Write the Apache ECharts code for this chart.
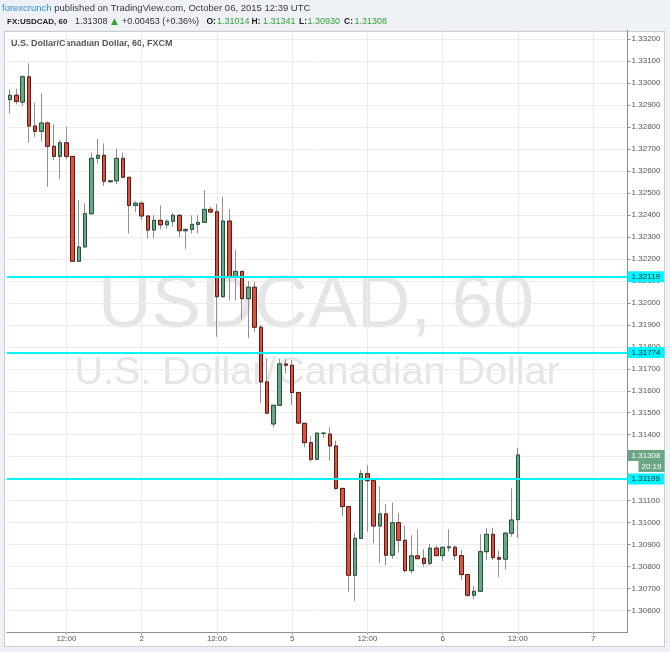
<!DOCTYPE html>
<html><head><meta charset="utf-8">
<script src="https://cdn.jsdelivr.net/npm/echarts@6/dist/echarts.min.js"></script>
<style>
html,body{margin:0;padding:0;background:#eef1f5;width:670px;height:652px;overflow:hidden;}
#frame{position:absolute;left:4px;top:31px;width:659px;height:614px;background:#fff;border:1px solid #c9cdd2;}
#chart{position:absolute;left:0;top:0;width:670px;height:652px;}
</style></head><body>
<div id="frame"></div>
<div id="chart"></div>
<script>
// hourly USDCAD candles, Oct 1 03:00 .. Oct 6 12:00 (weekend removed)
const opens = [1.32924,1.32944,1.32913,1.33028,1.32804,1.32780,1.32818,1.32712,1.32666,1.32728,
1.32666,1.32189,1.32254,1.32405,1.32657,1.32671,1.32551,1.32555,1.32657,1.32571,
1.32443,1.32453,1.32395,1.32331,1.32375,1.32355,1.32371,1.32398,1.32328,1.32334,
1.32357,1.32366,1.32425,1.32414,1.32028,1.32372,1.32116,1.32143,1.32019,1.32071,
1.31889,1.31640,1.31449,1.31534,1.31722,1.31716,1.31592,1.31452,1.31364,1.31288,
1.31406,1.31403,1.31349,1.31156,1.31073,1.30761,1.30929,1.31223,1.31191,1.30985,
1.31040,1.30852,1.31000,1.30920,1.30782,1.30849,1.30838,1.30815,1.30884,1.30850,
1.30886,1.30888,1.30850,1.30764,1.30670,1.30688,1.30868,1.30947,1.30841,1.30834,
1.30952,1.31014];
const closes = [1.32944,1.32916,1.33028,1.32804,1.32780,1.32818,1.32712,1.32666,1.32728,1.32666,
1.32189,1.32254,1.32405,1.32657,1.32671,1.32553,1.32555,1.32657,1.32571,1.32443,
1.32453,1.32395,1.32331,1.32375,1.32355,1.32371,1.32398,1.32328,1.32334,1.32357,
1.32366,1.32425,1.32413,1.32028,1.32372,1.32116,1.32143,1.32019,1.32071,1.31889,
1.31640,1.31498,1.31534,1.31722,1.31716,1.31592,1.31453,1.31364,1.31288,1.31407,
1.31407,1.31349,1.31156,1.31073,1.30761,1.30929,1.31223,1.31191,1.30985,1.31040,
1.30852,1.31000,1.30920,1.30782,1.30849,1.30836,1.30815,1.30884,1.30850,1.30888,
1.30890,1.30850,1.30764,1.30670,1.30688,1.30868,1.30947,1.30841,1.30834,1.30952,
1.31012,1.31308];
const lows = [1.32862,1.32903,1.32895,1.32728,1.32755,1.32734,1.32528,1.32649,1.32562,1.32653,
1.32189,1.32189,1.32252,1.32404,1.32634,1.32531,1.32545,1.32540,1.32568,1.32316,
1.32414,1.32377,1.32293,1.32293,1.32334,1.32337,1.32346,1.32298,1.32246,1.32316,
1.32316,1.32363,1.32408,1.31846,1.32022,1.32010,1.32010,1.31925,1.31839,1.31867,
1.31546,1.31494,1.31434,1.31533,1.31679,1.31535,1.31451,1.31343,1.31277,1.31285,
1.31384,1.31282,1.31149,1.31031,1.30686,1.30645,1.30928,1.30959,1.30906,1.30818,
1.30806,1.30836,1.30864,1.30773,1.30770,1.30835,1.30800,1.30806,1.30849,1.30826,
1.30868,1.30830,1.30739,1.30664,1.30652,1.30687,1.30830,1.30830,1.30754,1.30788,
1.30936,1.30930];
const highs = [1.32971,1.32974,1.33035,1.33089,1.32910,1.32953,1.32825,1.32813,1.32740,1.32801,
1.32668,1.32468,1.32453,1.32683,1.32746,1.32725,1.32558,1.32701,1.32683,1.32572,
1.32462,1.32462,1.32395,1.32399,1.32443,1.32380,1.32410,1.32404,1.32336,1.32398,
1.32398,1.32513,1.32436,1.32449,1.32483,1.32425,1.32240,1.32145,1.32100,1.32096,
1.31898,1.31748,1.31535,1.31746,1.31743,1.31740,1.31594,1.31453,1.31394,1.31412,
1.31412,1.31434,1.31373,1.31158,1.31074,1.30953,1.31240,1.31262,1.31192,1.31164,
1.31085,1.31091,1.31043,1.30988,1.30943,1.30967,1.30879,1.30903,1.30897,1.30891,
1.30970,1.30897,1.30876,1.30765,1.30712,1.30947,1.30975,1.30977,1.30873,1.30959,
1.31156,1.31341];

const slotCount = 99;              // hourly slots on the time axis
const timeTickIndex = [9,21,33,45,57,69,81,93];
const timeTickLabels = ['12:00','2','12:00','5','12:00','6','12:00','7'];
const levels = [1.32119, 1.31774, 1.31199];
const lastPrice = 1.31308;
const countdown = '20:19';

const FONT = 'Liberation Sans, Arial, sans-serif';
const categories = Array.from({length: slotCount}, (_, i) => String(i));
const labelOf = {};
timeTickIndex.forEach((idx, k) => { labelOf[idx] = timeTickLabels[k]; });
const isTick = (i) => labelOf[i] !== undefined;

const wickData = opens.map((o, i) => [o, closes[i], lows[i], highs[i]]);
const bodyData = opens.map((o, i) => [o, closes[i], Math.min(o, closes[i]), Math.max(o, closes[i])]);

const chart = echarts.init(document.getElementById('chart'), null, {renderer: 'canvas'});

function txt(x, y, text, font, fill) {
  return {type: 'text', x: x, y: y, silent: true,
    style: {text: text, font: font, fill: fill, align: 'left', verticalAlign: 'middle'}};
}

const graphics = [
  {type: 'text', x: 2, y: 8, silent: true, style: {
    text: '{a|forexcrunch}{b| published on TradingView.com, October 06, 2015 12:39 UTC}',
    verticalAlign: 'middle', align: 'left',
    rich: {a: {fill: '#2f8bcf', font: '9.5px ' + FONT}, b: {fill: '#3a3a3a', font: '9.5px ' + FONT}}
  }},
  txt(7, 21.5, 'FX:USDCAD, 60', 'bold 8px ' + FONT, '#222'),
  txt(75, 21.5, '1.31308', '9px ' + FONT, '#333'),
  txt(111, 21.5, '\u25B2', '9px DejaVu Sans, sans-serif', '#37a337'),
  txt(122, 21.5, '+0.00453 (+0.36%)', '9px ' + FONT, '#333'),
  txt(206.5, 21.5, 'O:', 'bold 8.5px ' + FONT, '#222'),
  txt(217, 21.5, '1.31014', '9px ' + FONT, '#37a337'),
  txt(251.5, 21.5, 'H:', 'bold 8.5px ' + FONT, '#222'),
  txt(263, 21.5, '1.31341', '9px ' + FONT, '#37a337'),
  txt(299, 21.5, 'L:', 'bold 8.5px ' + FONT, '#222'),
  txt(307.5, 21.5, '1.30930', '9px ' + FONT, '#37a337'),
  txt(344, 21.5, 'C:', 'bold 8.5px ' + FONT, '#222'),
  txt(354.5, 21.5, '1.31308', '9px ' + FONT, '#37a337'),
  txt(11, 44, 'U.S. Dollar/Canadian Dollar, 60, FXCM', 'bold 9px ' + FONT, '#555'),
  {type: 'text', x: 316, y: 307, z: -5, silent: true, style: {text: 'USDCAD, 60', font: '74px ' + FONT, fill: '#e5e5e5', align: 'center', verticalAlign: 'middle'}},
  {type: 'text', x: 317, y: 373, z: -5, silent: true, style: {text: 'U.S. Dollar/Canadian Dollar', font: '39.5px ' + FONT, fill: '#e5e5e5', align: 'center', verticalAlign: 'middle'}}
];

const option = {
  animation: false,
  backgroundColor: 'transparent',
  textStyle: {fontFamily: FONT},
  grid: {left: 6.87, right: 42.4, top: 30.2, bottom: 19.4, containLabel: false},
  graphic: graphics,
  xAxis: {
    type: 'category', data: categories, boundaryGap: true,
    axisLine: {show: true, lineStyle: {color: '#8e8e8e', width: 1}},
    axisTick: {show: true, alignWithLabel: true, interval: (i) => isTick(i), length: 2, lineStyle: {color: '#8e8e8e'}},
    axisLabel: {interval: (i) => isTick(i), formatter: (v, i) => labelOf[i] || '', color: '#555', fontSize: 8, margin: 2, fontFamily: FONT},
    splitLine: {show: false}
  },
  yAxis: {
    type: 'value', position: 'right', min: 1.305, max: 1.3324, interval: 0.001,
    axisLine: {show: true, lineStyle: {color: '#8e8e8e', width: 1}},
    axisTick: {show: true, length: 3, lineStyle: {color: '#8e8e8e'}},
    axisLabel: {color: '#555', fontSize: 8, margin: 4, fontFamily: FONT, formatter: (v) => v.toFixed(5), showMinLabel: false, showMaxLabel: false},
    splitLine: {show: true, lineStyle: {color: '#ebebeb', width: 1}}
  },
  series: [
    {
      type: 'candlestick', name: 'wicks', data: wickData, barWidth: 4, z: 2, silent: true,
      itemStyle: {color: '#909090', color0: '#909090', borderColor: '#909090', borderColor0: '#909090', borderWidth: 1},
      markLine: {
        silent: true, symbol: 'none', z: 1, animation: false,
        label: {show: false},
        lineStyle: {color: '#ebebeb', type: 'solid', width: 1},
        emphasis: {disabled: true},
        data: timeTickIndex.map((i) => ({xAxis: i}))
      }
    },
    {
      type: 'candlestick', name: 'USDCAD', data: bodyData, barWidth: 4, z: 3, silent: true,
      itemStyle: {color: '#6ba583', color0: '#d75442', borderColor: '#225437', borderColor0: '#5b1a13', borderWidth: 1},
      markLine: {
        silent: true, symbol: 'none', animation: false, precision: 5,
        emphasis: {disabled: true},
        data: levels.map((v) => ({
          yAxis: v,
          lineStyle: {color: '#00f4ff', width: 2, type: 'solid'},
          label: {show: true, position: 'end', distance: 0, formatter: () => v.toFixed(5),
            backgroundColor: '#00f4ff', color: '#0c2b2b', fontSize: 8, fontFamily: FONT, padding: [2, 4, 1, 4]}
        }))
      }
    },
    {
      type: 'line', name: 'last', data: [], silent: true, z: 6,
      markLine: {
        silent: true, symbol: 'none', animation: false, precision: 5,
        emphasis: {disabled: true},
        lineStyle: {color: 'rgba(0,0,0,0)', width: 1, type: 'solid'},
        label: {show: true, position: 'end', distance: 0,
          formatter: '{a|' + lastPrice.toFixed(5) + '}\n{b|' + countdown + '}',
          verticalAlign: 'top', padding: [-5, 0, 0, 0],
          rich: {
            a: {backgroundColor: '#6ba583', color: '#fff', fontSize: 8, fontFamily: FONT, padding: [2, 4, 1, 4], lineHeight: 11},
            b: {backgroundColor: '#6ba583', color: '#fff', fontSize: 8, fontFamily: FONT, padding: [2, 3, 1, 3], lineHeight: 11, align: 'right'}
          }
        },
        data: [{yAxis: lastPrice}]
      }
    }
  ]
};
chart.setOption(option);
</script>
</body></html>
